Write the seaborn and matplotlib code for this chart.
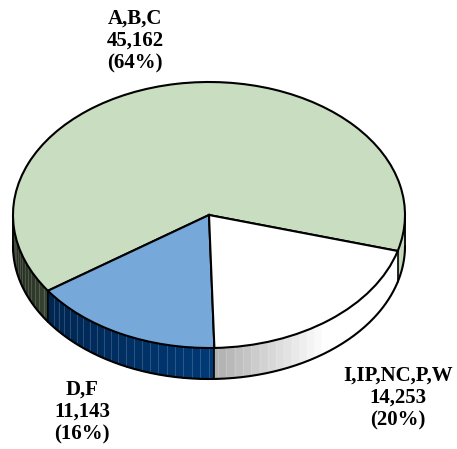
import numpy as np
import matplotlib
matplotlib.use("Agg")
import matplotlib.pyplot as plt
import seaborn as sns
from matplotlib.colors import LinearSegmentedColormap, to_rgb

# ---- data ----
categories = ["A,B,C", "D,F", "I,IP,NC,P,W"]
values = [45162, 11143, 14253]

sns.set_theme(style="white")
plt.rcParams['font.family'] = ['Liberation Serif', 'DejaVu Serif']

W, H = 457, 449
fig = plt.figure(figsize=(W / 100, H / 100), dpi=100)
ax = fig.add_axes([0, 0, 1, 1])

# ellipse geometry in pixels
cx, cy, rx, ry, depth_px = 209, 215, 196, 133, 31
depth = depth_px / ry

def px(x, y):
    return (x - cx) / rx, (cy - y) / ry

top_colors = ["#C9DEC0", "#77A8DA", "#FFFFFF"]
side_cmaps = [
    LinearSegmentedColormap.from_list("g", [(0, "#222A1D"), (0.1, "#3B4834"), (0.85, "#BFD4B5"), (1, "#BFD4B5")]),
    LinearSegmentedColormap.from_list("b", [(0, "#00224A"), (1, "#0050A0")]),
    LinearSegmentedColormap.from_list("w", [(0, "#606060"), (0.52, "#B0B0B0"), (0.8, "#FFFFFF"), (1, "#FFFFFF")]),
]
start_angle = -15.7

wedges, _ = ax.pie(values, colors=top_colors, startangle=start_angle, counterclock=True,
                   radius=1, center=(0, 0),
                   wedgeprops=dict(edgecolor="black", linewidth=1.5))
for w in wedges:
    w.set_zorder(3)

ax.set_aspect("auto")
ax.set_xlim(-cx / rx, (W - cx) / rx)
ax.set_ylim((cy - H) / ry, cy / ry)
ax.axis("off")

step = 2.5
for w, cmap in zip(wedges, side_cmaps):
    t1, t2 = w.theta1, w.theta2
    for k in range(-1, 3):
        a = max(t1, 180 + 360 * k)
        b = min(t2, 360 + 360 * k)
        if b <= a:
            continue
        grid = np.arange(np.ceil(a / step) * step, b, step)
        ts = np.unique(np.concatenate([[a], grid, [b]]))
        for j in range(len(ts) - 1):
            ta, tb = np.radians(ts[j]), np.radians(ts[j + 1])
            xm = np.cos((ta + tb) / 2)
            col = cmap((xm + 1) / 2)
            xs = [np.cos(ta), np.cos(tb), np.cos(tb), np.cos(ta)]
            ys = [np.sin(ta), np.sin(tb), np.sin(tb) - depth, np.sin(ta) - depth]
            ax.fill(xs, ys, color=col, lw=0.6, ec=col, zorder=1)
        for t in ts[1:-1]:
            tr = np.radians(t)
            c = np.array(to_rgb(cmap((np.cos(tr) + 1) / 2)))
            c = c + (1 - c) * 0.2
            ax.plot([np.cos(tr)] * 2, [np.sin(tr), np.sin(tr) - depth], color=c, lw=0.6, zorder=1.5)

# outlines of side
tt = np.radians(np.linspace(180, 360, 300))
ax.plot(np.cos(tt), np.sin(tt) - depth, color="black", lw=1.5, zorder=4)
for t in [180, 360]:
    tr = np.radians(t)
    ax.plot([np.cos(tr)] * 2, [np.sin(tr), np.sin(tr) - depth], color="black", lw=1.3, zorder=4)
for w in wedges:
    t = w.theta1 % 360
    if 180 < t < 360:
        tr = np.radians(t)
        ax.plot([np.cos(tr)] * 2, [np.sin(tr), np.sin(tr) - depth], color="black", lw=1.2, zorder=4)

# labels
total = sum(values)
label_pos = [(135, 41), (82, 412), (398, 398)]
for cat, v, (lx, ly) in zip(categories, values, label_pos):
    x, y = px(lx, ly)
    ax.text(x, y, f"{cat}\n{v:,}\n({v / total * 100:.0f}%)", ha="center", va="center",
            multialignment="center", fontsize=15, fontweight="bold", linespacing=1.17,
            color="black", zorder=5)

fig.savefig("out.png", dpi=100)
